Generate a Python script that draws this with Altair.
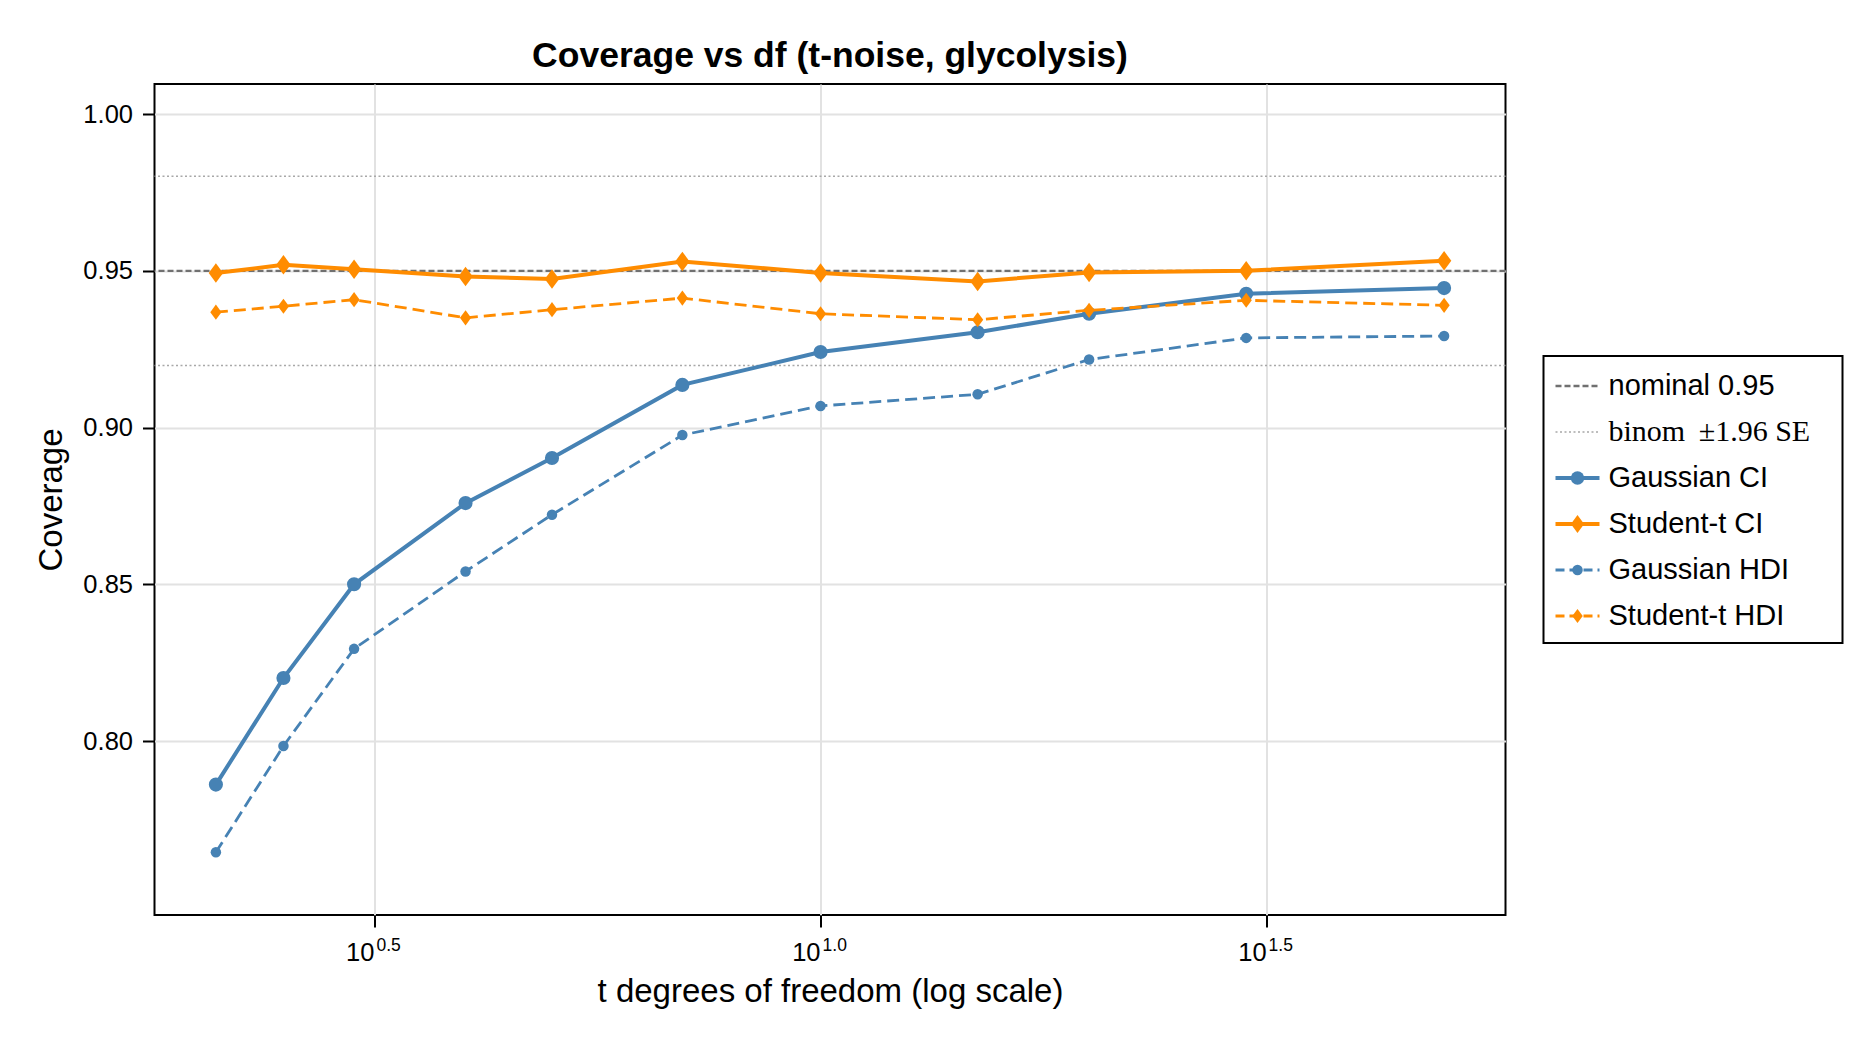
import altair as alt
import pandas as pd

# ---------------- data ----------------
dof = [2.1, 2.5, 3, 4, 5, 7, 10, 15, 20, 30, 50]
gaussian_ci = [0.7861, 0.8201, 0.8500, 0.8759, 0.8903, 0.9136, 0.9241, 0.9304, 0.9363, 0.9427, 0.9445]
student_ci = [0.9493, 0.9519, 0.9505, 0.9482, 0.9474, 0.9530, 0.9493, 0.9466, 0.9495, 0.9500, 0.9532]
gaussian_hdi = [0.7645, 0.7984, 0.8294, 0.8541, 0.8722, 0.8976, 0.9069, 0.9106, 0.9217, 0.9286, 0.9292]
student_hdi = [0.9368, 0.9387, 0.9408, 0.9350, 0.9376, 0.9413, 0.9363, 0.9344, 0.9374, 0.9406, 0.9390]
series_names = ["Gaussian CI", "Student-t CI", "Gaussian HDI", "Student-t HDI"]

nominal_level = [0.95]
binom_band = [0.9198, 0.9802]

x_tick_values = [10 ** 0.5, 10 ** 1.0, 10 ** 1.5]
x_tick_base = ["10", "10", "10"]
x_tick_exponent = ["0.5", "1.0", "1.5"]
y_tick_values = [0.80, 0.85, 0.90, 0.95, 1.00]

legend_labels = ["nominal 0.95", "binom \u2009\u00b11.96 SE", "Gaussian CI",
                 "Student-t CI", "Gaussian HDI", "Student-t HDI"]

# ---------------- styling ----------------
BLUE = "#4682B4"
ORANGE = "#FF8C00"
FONT = "Liberation Sans"
W, H = 1351, 831
DIAMOND = "M0,-1L0.74,0L0,1L-0.74,0Z"

rows = []
for name, vals in zip(series_names, [gaussian_ci, student_ci, gaussian_hdi, student_hdi]):
    for d, v in zip(dof, vals):
        rows.append({"df": d, "coverage": v, "series": name})
data = pd.DataFrame(rows)

x_scale = alt.Scale(type="log", domain=[10 ** 0.2534, 10 ** 1.7678], nice=False)
y_scale = alt.Scale(domain=[0.7445, 1.0096], nice=False, zero=False)

x_enc = alt.X(
    "df:Q", scale=x_scale,
    axis=alt.Axis(values=x_tick_values, labels=False, tickSize=12, tickWidth=2,
                  tickColor="black", grid=True, gridColor="#e2e2e2", gridWidth=2,
                  domain=False, title="t degrees of freedom (log scale)",
                  titleFontSize=33, titleFont=FONT, titleFontWeight="normal",
                  titleColor="black", titlePadding=47),
)
y_enc = alt.Y(
    "coverage:Q", scale=y_scale,
    axis=alt.Axis(values=y_tick_values, format=".2f", labelFontSize=25.5, labelFont=FONT,
                  labelColor="black", labelPadding=10, tickSize=12, tickWidth=2,
                  tickColor="black", grid=True, gridColor="#e2e2e2", gridWidth=2,
                  domain=False, title="Coverage", titleFontSize=33, titleFont=FONT,
                  titleFontWeight="normal", titleColor="black", titlePadding=14),
)

# reference lines
nominal_df = pd.DataFrame({"coverage": nominal_level})
binom_df = pd.DataFrame({"coverage": binom_band})
nominal_rule = alt.Chart(nominal_df).mark_rule(color="#707070", strokeWidth=2.4,
                                               strokeDash=[6, 3]).encode(y=y_enc)
binom_rule = alt.Chart(binom_df).mark_rule(color="#a8a8a8", strokeWidth=1.5,
                                           strokeDash=[2, 2.5]).encode(y=y_enc)

styles = {
    "Gaussian CI": dict(color=BLUE, width=4, dash=None, shape="circle", size=200),
    "Student-t CI": dict(color=ORANGE, width=4, dash=None, shape=DIAMOND, size=380),
    "Gaussian HDI": dict(color=BLUE, width=2.8, dash=[12, 6], shape="circle", size=110),
    "Student-t HDI": dict(color=ORANGE, width=2.8, dash=[12, 6], shape=DIAMOND, size=230),
}

layers = [nominal_rule, binom_rule]
for name in series_names:
    st = styles[name]
    sub = data[data["series"] == name]
    line_kw = dict(color=st["color"], strokeWidth=st["width"])
    if st["dash"] is not None:
        line_kw["strokeDash"] = st["dash"]
    layers.append(alt.Chart(sub).mark_line(**line_kw).encode(x=x_enc, y=y_enc))
    layers.append(alt.Chart(sub).mark_point(filled=True, opacity=1, shape=st["shape"],
                                            size=st["size"], color=st["color"],
                                            strokeWidth=0).encode(x=x_enc, y=y_enc))

tick_df = pd.DataFrame({"df": x_tick_values, "base": x_tick_base, "exp": x_tick_exponent})
base_text = alt.Chart(tick_df).mark_text(font=FONT, fontSize=25.5, color="black", align="right",
                                         baseline="alphabetic").encode(
    x=alt.X("df:Q", scale=x_scale), y=alt.value(H + 46), text="base:N")
exp_text = alt.Chart(tick_df).mark_text(font=FONT, fontSize=17.5, color="black", align="left",
                                        baseline="alphabetic", dx=2).encode(
    x=alt.X("df:Q", scale=x_scale), y=alt.value(H + 36), text="exp:N")
layers += [base_text, exp_text]

main = alt.layer(*layers).properties(
    width=W, height=H,
    title=alt.TitleParams("Coverage vs df (t-noise, glycolysis)", font=FONT, fontSize=35.5,
                          fontWeight="bold", color="black", anchor="middle", frame="group",
                          offset=10),
)

# ---------------- legend ----------------
legend_df = pd.DataFrame({"name": legend_labels})
y_leg = alt.Y("name:N", sort=legend_labels,
              scale=alt.Scale(type="point", domain=legend_labels, range=[30, 260], padding=0),
              axis=None)

leg_styles = [
    dict(color="#707070", width=2.4, dash=[6, 3], shape=None, size=None),
    dict(color="#a8a8a8", width=1.5, dash=[2, 2.5], shape=None, size=None),
    dict(color=BLUE, width=4, dash=None, shape="circle", size=180),
    dict(color=ORANGE, width=4, dash=None, shape=DIAMOND, size=320),
    dict(color=BLUE, width=2.8, dash=[9, 5], shape="circle", size=110),
    dict(color=ORANGE, width=2.8, dash=[9, 5], shape=DIAMOND, size=200),
]

leg_layers = []
for label, st in zip(legend_labels, leg_styles):
    base = alt.Chart(legend_df).transform_filter(alt.datum.name == label)
    rule_kw = dict(color=st["color"], strokeWidth=st["width"])
    if st["dash"] is not None:
        rule_kw["strokeDash"] = st["dash"]
    leg_layers.append(base.mark_rule(**rule_kw).encode(x=alt.value(12), x2=alt.value(56), y=y_leg))
    if st["shape"] is not None:
        leg_layers.append(base.mark_point(filled=True, opacity=1, strokeWidth=0, shape=st["shape"],
                                          size=st["size"], color=st["color"]).encode(
            x=alt.value(34), y=y_leg))

leg_text = alt.Chart(legend_df).transform_filter(
    alt.datum.name != legend_labels[1]
).mark_text(font=FONT, fontSize=29, color="black", align="left", baseline="middle").encode(
    x=alt.value(65), y=y_leg, text="name:N")
leg_text_tex = alt.Chart(legend_df).transform_filter(
    alt.datum.name == legend_labels[1]
).mark_text(font="Liberation Serif", fontSize=30, color="black", align="left",
            baseline="middle").encode(x=alt.value(65), y=y_leg, text="name:N")

legend = alt.layer(*leg_layers, leg_text, leg_text_tex).properties(width=299, height=287)

chart = alt.hconcat(main, legend, spacing=38, center=True, bounds="flush").configure_view(
    stroke="black", strokeWidth=2
).properties(padding={"left": 34.5, "top": 37, "right": 5, "bottom": 5}, background="white")

chart.save("out.html", embed_options={"renderer": "svg", "actions": False})
